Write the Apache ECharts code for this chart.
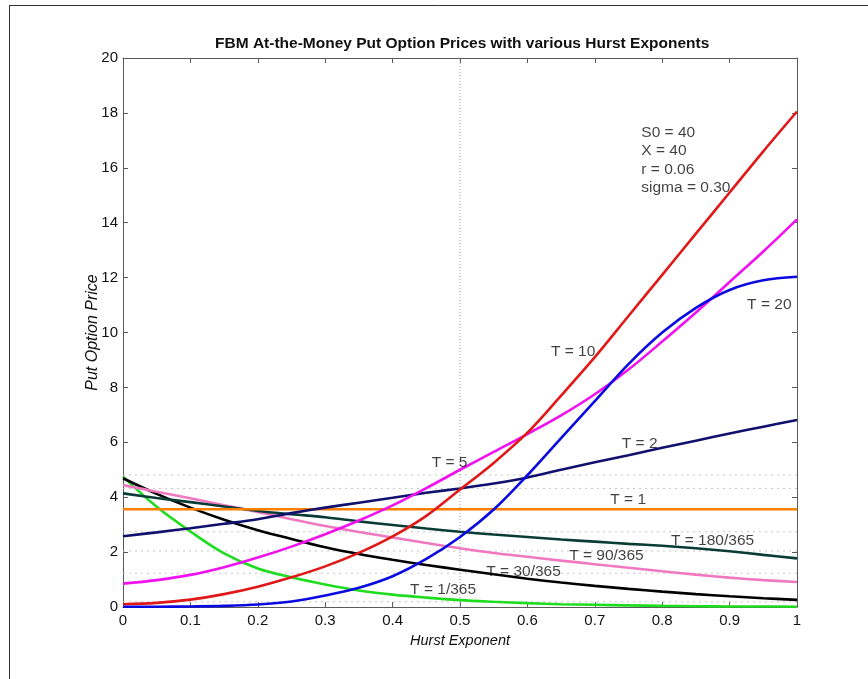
<!DOCTYPE html>
<html>
<head>
<meta charset="utf-8">
<script src="https://cdn.jsdelivr.net/npm/echarts@6/dist/echarts.min.js"></script>
<style>
html,body{margin:0;padding:0;background:#fff;}
#chart{width:868px;height:679px;}
</style>
</head>
<body>
<div id="chart"></div>
<script>
// Hurst exponent sample points
const hurst = [0,0.05,0.1,0.15,0.2,0.25,0.3,0.35,0.4,0.45,0.5,0.55,0.6,0.65,0.7,0.75,0.8,0.85,0.9,0.95,1];

// Put prices
const putT10   = [0.1,0.15,0.27,0.47,0.74,1.08,1.48,1.97,2.57,3.32,4.28,5.25,6.35,7.7,9.1,10.6,12.1,13.6,15.1,16.6,18.05];
const putT5    = [0.85,0.98,1.17,1.45,1.8,2.2,2.65,3.15,3.7,4.33,5.0,5.65,6.3,6.98,7.75,8.65,9.67,10.73,11.84,12.95,14.12];
const putT20   = [0.01,0.01,0.02,0.04,0.09,0.2,0.42,0.7,1.12,1.75,2.55,3.55,4.8,6.15,7.5,8.85,10.0,10.9,11.55,11.9,12.03];
const putT2    = [2.58,2.72,2.87,3.03,3.2,3.42,3.62,3.8,3.98,4.16,4.32,4.5,4.72,5.0,5.27,5.53,5.8,6.06,6.32,6.57,6.81];
const putT1    = [3.56,3.56,3.56,3.56,3.56,3.56,3.56,3.56,3.56,3.56,3.56,3.56,3.56,3.56,3.56,3.56,3.56,3.56,3.56,3.56,3.56];
const putT180  = [4.14,3.97,3.82,3.66,3.5,3.38,3.27,3.12,2.99,2.86,2.74,2.64,2.55,2.46,2.38,2.3,2.23,2.14,2.03,1.9,1.77];
const putT90   = [4.44,4.2,3.96,3.71,3.46,3.2,2.95,2.73,2.53,2.33,2.14,1.97,1.83,1.69,1.56,1.43,1.3,1.18,1.07,0.98,0.91];
const putT30   = [4.69,4.12,3.62,3.18,2.8,2.48,2.18,1.93,1.72,1.53,1.36,1.19,1.03,0.89,0.77,0.66,0.56,0.47,0.39,0.32,0.26];
const putT1d   = [4.75,3.65,2.75,1.95,1.4,1.08,0.82,0.6,0.45,0.34,0.25,0.19,0.14,0.1,0.08,0.06,0.04,0.03,0.02,0.02,0.01];

// faint dotted horizontal lines visible in the picture
const dottedLevels = [4.81,4.32,2.74,2.04,1.23,0.19];
const vLineAt = 0.5;

// curve labels: [H, price, text]
const curveLabels = [
  [0.635,9.29,'T = 10'],
  [0.926,11.0,'T = 20'],
  [0.458,5.25,'T = 5'],
  [0.74,5.94,'T = 2'],
  [0.723,3.9,'T = 1'],
  [0.813,2.4,'T = 180/365'],
  [0.662,1.86,'T = 90/365'],
  [0.539,1.28,'T = 30/365'],
  [0.426,0.62,'T = 1/365']
];
const paramLines = [
  [0.769,17.28,'S0 = 40'],
  [0.769,16.63,'X = 40'],
  [0.769,15.92,'r = 0.06'],
  [0.769,15.26,'sigma = 0.30']
];

const xTicks = [0,0.1,0.2,0.3,0.4,0.5,0.6,0.7,0.8,0.9,1];
const yTicks = [0,2,4,6,8,10,12,14,16,18,20];

const FONT = '"Liberation Sans", Arial, sans-serif';
const pair = arr => hurst.map((h,i)=>[h,arr[i]]);

const curves = [
  {name:'T = 1/365', data:putT1d, color:'#1edc1e'},
  {name:'T = 30/365', data:putT30, color:'#000000'},
  {name:'T = 90/365', data:putT90, color:'#f078c0'},
  {name:'T = 180/365', data:putT180, color:'#0a3c37'},
  {name:'T = 1', data:putT1, color:'#ff7f00'},
  {name:'T = 2', data:putT2, color:'#10106e'},
  {name:'T = 5', data:putT5, color:'#f010f0'},
  {name:'T = 10', data:putT10, color:'#e01818'},
  {name:'T = 20', data:putT20, color:'#0a0ae0'}
];

const series = [];
dottedLevels.forEach(v=>{
  series.push({type:'line', data:[[0,v],[1,v]], symbol:'none', silent:true,
    lineStyle:{color:'#c4c4c4', width:1, type:[2,4]}, z:1});
});
series.push({type:'line', data:[[vLineAt,0],[vLineAt,20]], symbol:'none', silent:true,
  lineStyle:{color:'#a0a0a0', width:1, type:[1,2]}, z:1});
curves.forEach(c=>{
  series.push({type:'line', name:c.name, data:pair(c.data), symbol:'none', smooth:0.35,
    lineStyle:{color:c.color, width:2.6}, z:3});
});
const labelStyle = {show:true, position:'right', distance:0, formatter:p=>p.data[2],
    color:'#111', fontFamily:FONT, fontSize:15.5};
series.push({type:'scatter', data:curveLabels, symbolSize:0, silent:true, z:5, label:labelStyle});
series.push({type:'scatter', data:paramLines, symbolSize:0, silent:true, z:5, label:labelStyle});

const axisLineStyle = {color:'#5a5a5a', width:1};
const chart = echarts.init(document.getElementById('chart'), null, {renderer:'canvas'});
chart.setOption({
  animation:false,
  backgroundColor:'#fff',
  title:{text:'FBM At-the-Money Put Option Prices with various Hurst Exponents',
    left:210, top:31, textStyle:{fontFamily:FONT, fontSize:15.5, fontWeight:'bold', color:'#111'}},
  grid:{left:123, right:71, top:58, bottom:72, containLabel:false},
  xAxis:[
    {type:'value', min:0, max:1, interval:0.1, position:'bottom',
     name:'Hurst Exponent', nameLocation:'middle', nameGap:26,
     nameTextStyle:{fontFamily:FONT, fontSize:14.5, fontStyle:'italic', color:'#111'},
     axisLine:{show:true, onZero:false, lineStyle:axisLineStyle},
     axisTick:{show:true, inside:true, length:5, lineStyle:axisLineStyle},
     axisLabel:{fontFamily:FONT, fontSize:15, color:'#111', margin:6,
       formatter:v=>{const r=Math.round(v*10)/10; return r===0?'0':(r===1?'1':String(r));}},
     splitLine:{show:false}},
    {type:'value', min:0, max:1, interval:0.1, position:'top',
     axisLine:{show:true, onZero:false, lineStyle:axisLineStyle},
     axisTick:{show:true, inside:true, length:5, lineStyle:axisLineStyle},
     axisLabel:{show:false}, splitLine:{show:false}}
  ],
  yAxis:[
    {type:'value', min:0, max:20, interval:2, position:'left',
     name:'Put Option Price', nameLocation:'middle', nameGap:22, nameRotate:90,
     nameMoveOverlap:false,
     nameTextStyle:{fontFamily:FONT, fontSize:16, fontStyle:'italic', color:'#111'},
     axisLine:{show:true, onZero:false, lineStyle:axisLineStyle},
     axisTick:{show:true, inside:true, length:5, lineStyle:axisLineStyle},
     axisLabel:{fontFamily:FONT, fontSize:15, color:'#111', margin:5},
     splitLine:{show:false}},
    {type:'value', min:0, max:20, interval:2, position:'right',
     axisLine:{show:true, onZero:false, lineStyle:axisLineStyle},
     axisTick:{show:true, inside:true, length:5, lineStyle:axisLineStyle},
     axisLabel:{show:false}, splitLine:{show:false}}
  ],
  graphic:[
    {type:'line', shape:{x1:9, y1:5.5, x2:868, y2:5.5}, style:{stroke:'#333', lineWidth:1}, silent:true},
    {type:'line', shape:{x1:9.5, y1:5, x2:9.5, y2:679}, style:{stroke:'#333', lineWidth:1}, silent:true}
  ],
  series: series
});
</script>
</body>
</html>
